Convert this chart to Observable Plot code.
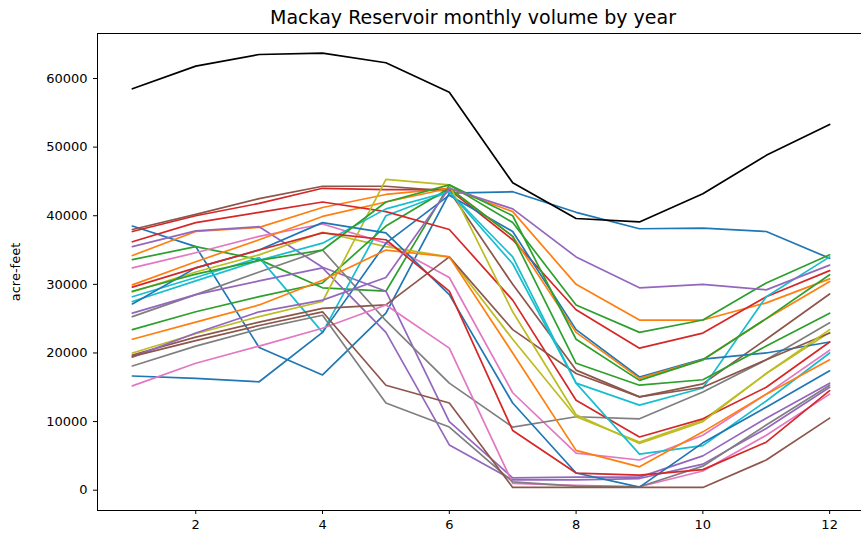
<!DOCTYPE html>
<html>
<head>
<meta charset="utf-8">
<script src="https://cdn.jsdelivr.net/npm/d3@7"></script>
<script src="https://cdn.jsdelivr.net/npm/@observablehq/plot@0.6"></script>
<style>
  html, body { margin: 0; background: #ffffff; overflow: hidden; }
  #chart svg { display: block; }
</style>
</head>
<body>
<div id="chart"></div>
<script>
const title = "Mackay Reservoir monthly volume by year";
const yLabel = "acre-feet";
const months = [1, 2, 3, 4, 5, 6, 7, 8, 9, 10, 11, 12];
const xTicks = [2, 4, 6, 8, 10, 12];
const yTicks = [0, 10000, 20000, 30000, 40000, 50000, 60000];

// Series in drawing order (colour cycles through the tab10 palette)
const years = ["1997","1998","1999","2000","2001","2002","2003","2004","2005","2006","2007","2008","2009",
               "2010","2011","2012","2013","2014","2015","2016","2017","2018","2019","2020","2021","2022"];
const v1997 = [38500, 35500, 20800, 16800, 25800, 43300, 43500, 40500, 38100, 38200, 37700, 33800];
const v1998 = [34200, 37700, 38300, 41200, 43100, 44000, 40600, 30000, 24800, 24800, 27300, 30800];
const v1999 = [33600, 35500, 33600, 29500, 29000, 44500, 39000, 27000, 23000, 24800, 30200, 34300];
const v2000 = [37700, 40000, 41800, 44000, 43800, 43800, 36500, 26300, 20700, 22900, 28200, 32000];
const v2001 = [35500, 37800, 38400, 32500, 29000, 10000, 1800, 1900, 1900, 5000, 10500, 15600];
const v2002 = [38000, 40200, 42500, 44300, 44300, 43600, 30000, 17500, 13600, 15500, 22000, 28600];
const v2003 = [32400, 34600, 37000, 38800, 36000, 31000, 14200, 5400, 4400, 8000, 14000, 20400];
const v2004 = [25300, 28500, 31800, 35000, 24700, 15600, 9200, 10700, 10400, 14300, 19000, 24400];
const v2005 = [28900, 31800, 34300, 37600, 35500, 34000, 22000, 10700, 7000, 10200, 17000, 23000];
const v2006 = [28200, 31000, 33900, 23000, 40000, 43500, 34000, 15600, 12400, 14900, 28200, 34000];
const v2007 = [16640, 16300, 15800, 23000, 36000, 43000, 37700, 23400, 16500, 19100, 20000, 21600];
const v2008 = [29930, 33300, 36500, 39900, 42000, 44000, 37000, 23000, 16300, 19000, 25000, 30400];
const v2009 = [23400, 26000, 28200, 30200, 38500, 44000, 37000, 18500, 15300, 16100, 21000, 25800];
const v2010 = [36200, 39000, 40500, 42000, 40600, 38000, 27700, 13100, 7750, 10400, 15000, 21600];
const v2011 = [25800, 28500, 30500, 32400, 23000, 6600, 1500, 1500, 1700, 3800, 9000, 15000];
const v2012 = [19700, 22300, 24500, 26500, 27000, 34000, 23400, 17000, 13600, 15000, 19000, 22900];
const v2013 = [15200, 18500, 21000, 23600, 27000, 20700, 1000, 700, 500, 2800, 8000, 14000];
const v2014 = [18100, 21000, 23500, 25500, 12700, 9200, 1200, 600, 500, 3500, 9500, 15300];
const v2015 = [20000, 22800, 25300, 27500, 45300, 44500, 26000, 11000, 6800, 10000, 17000, 23400];
const v2016 = [27500, 30500, 33500, 36000, 41000, 43500, 33000, 15600, 5250, 6500, 13000, 20000];
const v2017 = [27150, 32400, 35000, 39000, 37500, 28500, 12700, 2500, 450, 6900, 12100, 17400];
const v2018 = [22000, 24500, 27000, 30600, 35000, 34000, 20000, 5800, 3400, 8500, 14000, 19000];
const v2019 = [29000, 31500, 33500, 35000, 42000, 44500, 40000, 22000, 16000, 19000, 25000, 31400];
const v2020 = [29600, 32400, 35000, 37500, 36500, 29000, 8700, 2500, 2200, 3000, 7000, 14500];
const v2021 = [19400, 22900, 26000, 27700, 31000, 44000, 41000, 34000, 29500, 30000, 29200, 32800];
const v2022 = [19500, 21800, 24000, 26000, 15300, 12700, 400, 400, 400, 400, 4400, 10500];
const vBlack = [58500, 61800, 63500, 63700, 62300, 58000, 44800, 39600, 39100, 43200, 48800, 53300];

const seriesValues = [v1997, v1998, v1999, v2000, v2001, v2002, v2003, v2004, v2005, v2006, v2007, v2008, v2009,
                      v2010, v2011, v2012, v2013, v2014, v2015, v2016, v2017, v2018, v2019, v2020, v2021, v2022];

const palette = ["#1f77b4", "#ff7f0e", "#2ca02c", "#d62728", "#9467bd",
                 "#8c564b", "#e377c2", "#7f7f7f", "#bcbd22", "#17becf"];

const rows = [];
years.forEach((yr, i) => seriesValues[i].forEach((v, j) => rows.push({year: yr, month: months[j], volume: v})));
const blackRows = vBlack.map((v, j) => ({month: months[j], volume: v}));

const chart = Plot.plot({
  width: 861,
  height: 540,
  marginLeft: 97,
  marginRight: -3,
  marginTop: 33,
  marginBottom: 30,
  style: {fontFamily: "'DejaVu Sans', sans-serif", fontSize: "13px", background: "#ffffff", color: "#000000", overflow: "hidden"},
  x: {domain: [0.45, 12.55], ticks: xTicks, tickSize: 4, tickPadding: 5, tickFormat: d => String(d), label: null},
  y: {domain: [-2960, 66560], ticks: yTicks, tickSize: 4, tickPadding: 6, tickFormat: d => String(d), label: null},
  color: {domain: years, range: years.map((_, i) => palette[i % palette.length])},
  marks: [
    Plot.line(rows, {x: "month", y: "volume", z: "year", stroke: "year", strokeWidth: 1.7}),
    Plot.line(blackRows, {x: "month", y: "volume", stroke: "#000000", strokeWidth: 1.7}),
    Plot.frame({stroke: "#000000", strokeWidth: 1}),
    Plot.text([title], {frameAnchor: "top", dx: -8, dy: -16, textAnchor: "middle", lineAnchor: "middle", fontSize: 19}),
    Plot.text([yLabel], {frameAnchor: "left", dx: -82, rotate: -90, textAnchor: "middle", lineAnchor: "middle", fontSize: 13})
  ]
});
document.getElementById("chart").appendChild(chart);
</script>
</body>
</html>
